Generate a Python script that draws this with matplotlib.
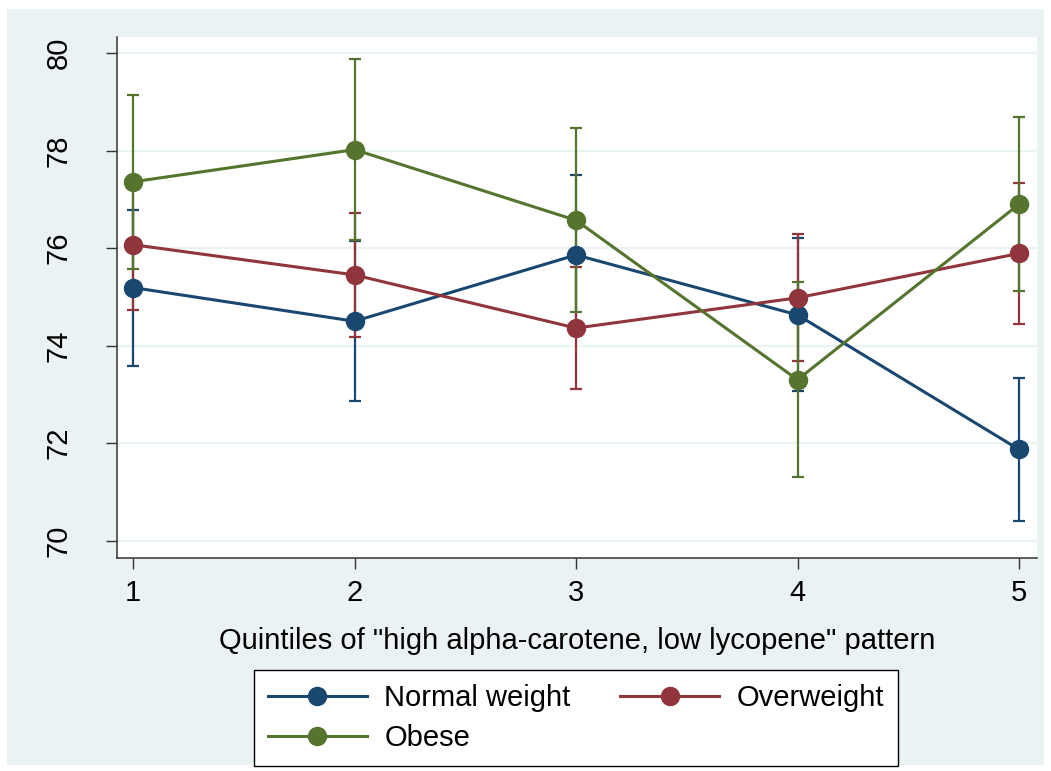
import matplotlib
matplotlib.use("Agg")
import matplotlib.pyplot as plt
from matplotlib.patches import Rectangle

plt.rcParams['font.family'] = ['Liberation Sans', 'DejaVu Sans']

quintiles = [1, 2, 3, 4, 5]
series_names = ["Normal weight", "Overweight", "Obese"]
normal_mean = [75.19, 74.50, 75.86, 74.63, 71.87]
normal_err = [1.60, 1.64, 1.64, 1.57, 1.46]
over_mean = [76.07, 75.45, 74.36, 74.98, 75.89]
over_err = [1.34, 1.28, 1.26, 1.30, 1.44]
obese_mean = [77.36, 78.02, 76.57, 73.30, 76.90]
obese_err = [1.78, 1.85, 1.89, 2.00, 1.79]
colors = ["#1A476F", "#90353B", "#55752F"]
yticks = [70, 72, 74, 76, 78, 80]
xlabel = 'Quintiles of "high alpha-carotene, low lycopene" pattern'

W, H = 1051, 771
fig = plt.figure(figsize=(W / 100, H / 100), dpi=100, facecolor="white")
fig.patches.append(Rectangle((7 / W, 1 - 765 / H), (1044 - 7) / W, (765 - 9) / H,
                             transform=fig.transFigure, facecolor="#EAF2F3",
                             edgecolor="none", zorder=-10))

ax = fig.add_axes([116.7 / W, 1 - 557.7 / H, (1036.7 - 116.7) / W, (557.7 - 37) / H])
ax.set_zorder(1)
ax.set_facecolor("white")

means = [normal_mean, over_mean, obese_mean]
errs = [normal_err, over_err, obese_err]

for m, e, c in zip(means, errs, colors):
    ax.errorbar(quintiles, m, yerr=e, fmt="none", ecolor=c, elinewidth=1.6,
                capsize=4.5, capthick=1.6, zorder=2)
handles = []
for m, c, n in zip(means, colors, series_names):
    h, = ax.plot(quintiles, m, color=c, lw=2.2, marker="o", markersize=13,
                 markeredgecolor=c, label=n, zorder=3)
    handles.append(h)

ax.set_xlim(0.926, 5.08)
ax.set_ylim(69.65, 80.33)
ax.set_yticks(yticks)
ax.set_xticks(quintiles)
ax.grid(axis="y", color="#EAF2F3", lw=1.6)
ax.set_axisbelow(True)
for s in ["top", "right"]:
    ax.spines[s].set_visible(False)
for s in ["left", "bottom"]:
    ax.spines[s].set_color("#333333")
    ax.spines[s].set_linewidth(1.1)

fs = 21
ax.tick_params(axis="both", direction="out", length=8, width=1.0, color="#333333",
               labelsize=fs, labelcolor="black")
ax.tick_params(axis="x", pad=7)
ax.tick_params(axis="y", pad=24)
for lab in ax.get_yticklabels():
    lab.set_rotation(90)
    lab.set_va("center")
ax.set_xlabel(xlabel, fontsize=fs, labelpad=15)

order = [handles[0], handles[2], handles[1]]
leg = fig.legend(order, [h.get_label() for h in order], ncol=2,
                 loc="center", bbox_to_anchor=((257 + 895) / 2 / W, 1 - 718 / H),
                 fontsize=fs, frameon=True, fancybox=False, edgecolor="black",
                 framealpha=1, handlelength=3.4, handletextpad=0.6, columnspacing=1.7,
                 labelspacing=0.42, borderpad=0.48, borderaxespad=0)
leg.get_frame().set_linewidth(1.0)
leg.get_frame().set_facecolor("white")

fig.savefig("out.png", dpi=100, facecolor="white")
